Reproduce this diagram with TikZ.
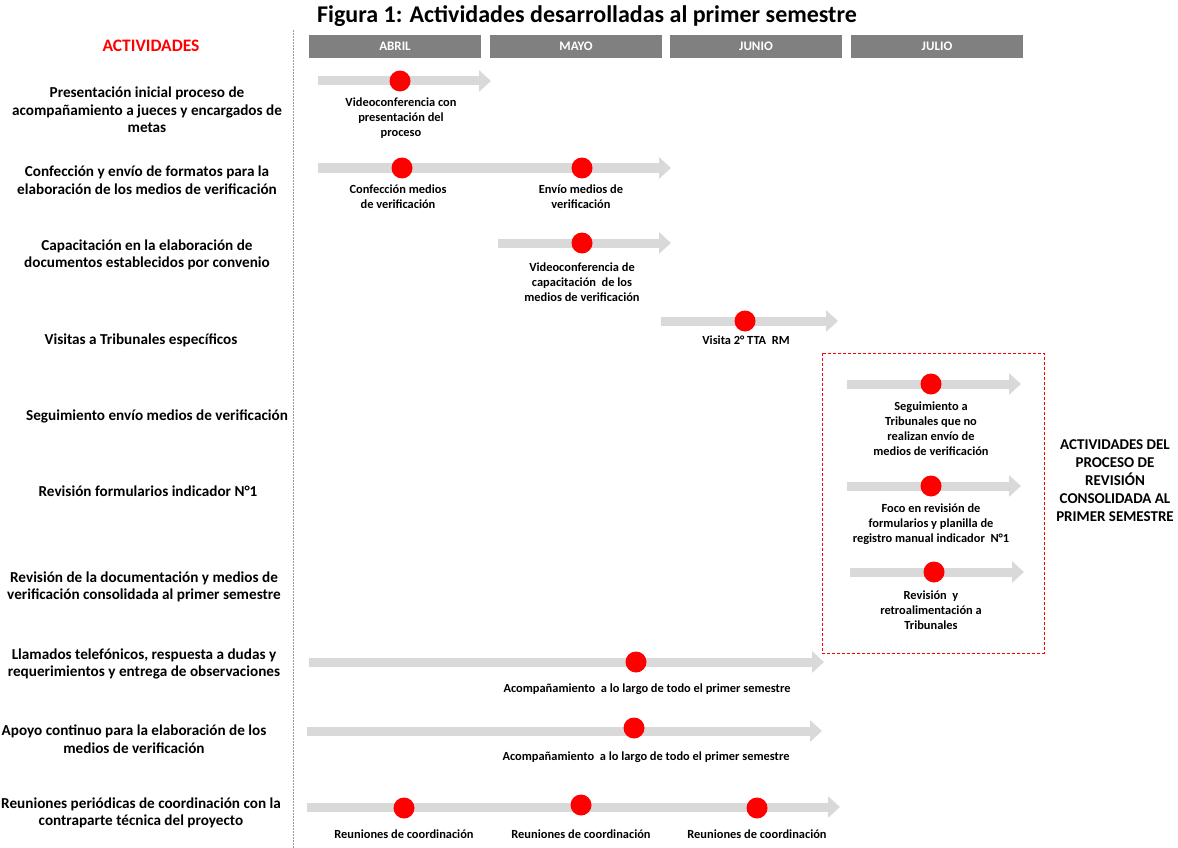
\documentclass[tikz,border=0pt]{standalone}
\usepackage{fontspec}
\setmainfont{Carlito}
\usetikzlibrary{arrows.meta}
\definecolor{hdr}{HTML}{808080}
\definecolor{barc}{HTML}{D9D9D9}
\definecolor{dotred}{HTML}{FF0000}
\begin{document}
\begin{tikzpicture}[x=1pt,y=-1pt,
  hdrbox/.style={fill=hdr, minimum width=172pt, minimum height=23pt, inner sep=0pt, text=white, font=\bfseries\fontsize{13}{15}\selectfont},
  actlabel/.style={align=center, font=\bfseries\fontsize{15.2}{17.5}\selectfont, inner sep=0pt},
  captxt/.style={align=center, font=\bfseries\fontsize{12.4}{15}\selectfont, inner sep=0pt},
  reddot/.style={circle, fill=dotred, minimum size=21pt, inner sep=0pt},
  tl/.style={draw=barc, line width=9pt, -{Triangle[width=21pt,length=12pt]}},
]
\useasboundingbox (0,0) rectangle (1178,848);
% title
\node[font=\bfseries\fontsize{24}{28}\selectfont, inner sep=0pt] (title) at (587,16) {Figura 1: Actividades desarrolladas al primer semestre};
% divider
\coordinate (vtop) at (293,30);
\coordinate (vbot) at (293,848);
\draw[gray!80, dash pattern=on 2pt off 1pt, line width=0.6pt] (vtop) -- (vbot);
% header
\node[font=\bfseries\fontsize{17.5}{19}\selectfont, text=dotred, inner sep=0pt] (acth) at (151,46) {ACTIVIDADES};
\node[hdrbox] (abr) at (395,46.5) {ABRIL};
\node[hdrbox] (may) at (576,46.5) {MAYO};
\node[hdrbox] (jun) at (756,46.5) {JUNIO};
\node[hdrbox] (jul) at (937,46.5) {JULIO};
% left labels
\node[actlabel] (l1) at (147,110) {Presentación inicial proceso de\\acompañamiento a jueces y encargados de\\metas};
\node[actlabel] (l2) at (147,180) {Confección y envío de formatos para la\\elaboración de los medios de verificación};
\node[actlabel] (l3) at (147,255) {Capacitación en la elaboración de\\documentos establecidos por convenio};
\node[actlabel] (l4) at (141,340) {Visitas a Tribunales específicos};
\node[actlabel] (l5) at (157,416) {Seguimiento envío medios de verificación};
\node[actlabel] (l6) at (148,491) {Revisión formularios indicador N°1};
\node[actlabel] (l7) at (144,587) {Revisión de la documentación y medios de\\verificación consolidada al primer semestre};
\node[actlabel] (l8) at (144,664) {Llamados telefónicos, respuesta a dudas y\\requerimientos y entrega de observaciones};
\node[actlabel] (l9) at (134,739) {Apoyo continuo para la elaboración de los\\medios de verificación};
\node[actlabel] (l10) at (141,813) {Reuniones periódicas de coordinación con la\\contraparte técnica del proyecto};
% row 1
\coordinate (a1s) at (318,81); \coordinate (a1e) at (491,81);
\draw[tl] (a1s) -- (a1e);
\node[reddot] (d1) at (400,81) {};
\node[captxt] (c1) at (401,118) {Videoconferencia con\\presentación del\\proceso};
% row 2
\coordinate (a2s) at (318,168); \coordinate (a2e) at (671,168);
\draw[tl] (a2s) -- (a2e);
\node[reddot] (d2a) at (402,168) {};
\node[reddot] (d2b) at (582,168) {};
\node[captxt] (c2a) at (398,196.5) {Confección medios\\de verificación};
\node[captxt] (c2b) at (581,196.5) {Envío medios de\\verificación};
% row 3
\coordinate (a3s) at (498,243); \coordinate (a3e) at (671,243);
\draw[tl] (a3s) -- (a3e);
\node[reddot] (d3) at (582,243) {};
\node[captxt] (c3) at (582,282) {Videoconferencia de\\capacitación~ de los\\medios de verificación};
% row 4
\coordinate (a4s) at (661,321); \coordinate (a4e) at (838,321);
\draw[tl] (a4s) -- (a4e);
\node[reddot] (d4) at (745,321) {};
\node[captxt] (c4) at (746,340) {Visita 2° TTA~ RM};
% red dashed box
\draw[dotred, dash pattern=on 3pt off 2pt, line width=0.7pt] (822,353) rectangle (1044,653);
% row 5
\coordinate (a5s) at (847,384); \coordinate (a5e) at (1021,384);
\draw[tl] (a5s) -- (a5e);
\node[reddot] (d5) at (931,384) {};
\node[captxt] (c5) at (931,428.5) {Seguimiento a\\Tribunales que no\\realizan envío de\\medios de verificación};
% row 6
\coordinate (a6s) at (847,486); \coordinate (a6e) at (1021,486);
\draw[tl] (a6s) -- (a6e);
\node[reddot] (d6) at (931,486) {};
\node[captxt] (c6) at (931,524.5) {Foco en revisión de\\formularios y planilla de\\registro manual indicador~ N°1};
% row 7
\coordinate (a7s) at (850,572); \coordinate (a7e) at (1024,572);
\draw[tl] (a7s) -- (a7e);
\node[reddot] (d7) at (934,572) {};
\node[captxt] (c7) at (931,610.5) {Revisión~ y\\retroalimentación a\\Tribunales};
% side label
\node[actlabel, font=\bfseries\fontsize{15}{18}\selectfont] (side) at (1115,481) {ACTIVIDADES DEL\\PROCESO DE\\REVISIÓN\\CONSOLIDADA AL\\PRIMER SEMESTRE};
% row 8
\coordinate (a8s) at (309,662); \coordinate (a8e) at (824,662);
\draw[tl] (a8s) -- (a8e);
\node[reddot] (d8) at (636,662) {};
\node[captxt] (c8) at (647,689) {Acompañamiento~ a lo largo de todo el primer semestre};
% row 9
\coordinate (a9s) at (307,731); \coordinate (a9e) at (822,731);
\draw[tl] (a9s) -- (a9e);
\node[reddot] (d9) at (634,728) {};
\node[captxt] (c9) at (646,757) {Acompañamiento~ a lo largo de todo el primer semestre};
% row 10
\coordinate (a10s) at (307,807); \coordinate (a10e) at (840,807);
\draw[tl] (a10s) -- (a10e);
\node[reddot] (d10a) at (404,808) {};
\node[reddot] (d10b) at (581,805) {};
\node[reddot] (d10c) at (757,808) {};
\node[captxt] (c10a) at (404,834) {Reuniones de coordinación};
\node[captxt] (c10b) at (581,834) {Reuniones de coordinación};
\node[captxt] (c10c) at (757,834) {Reuniones de coordinación};
\end{tikzpicture}
\end{document}
